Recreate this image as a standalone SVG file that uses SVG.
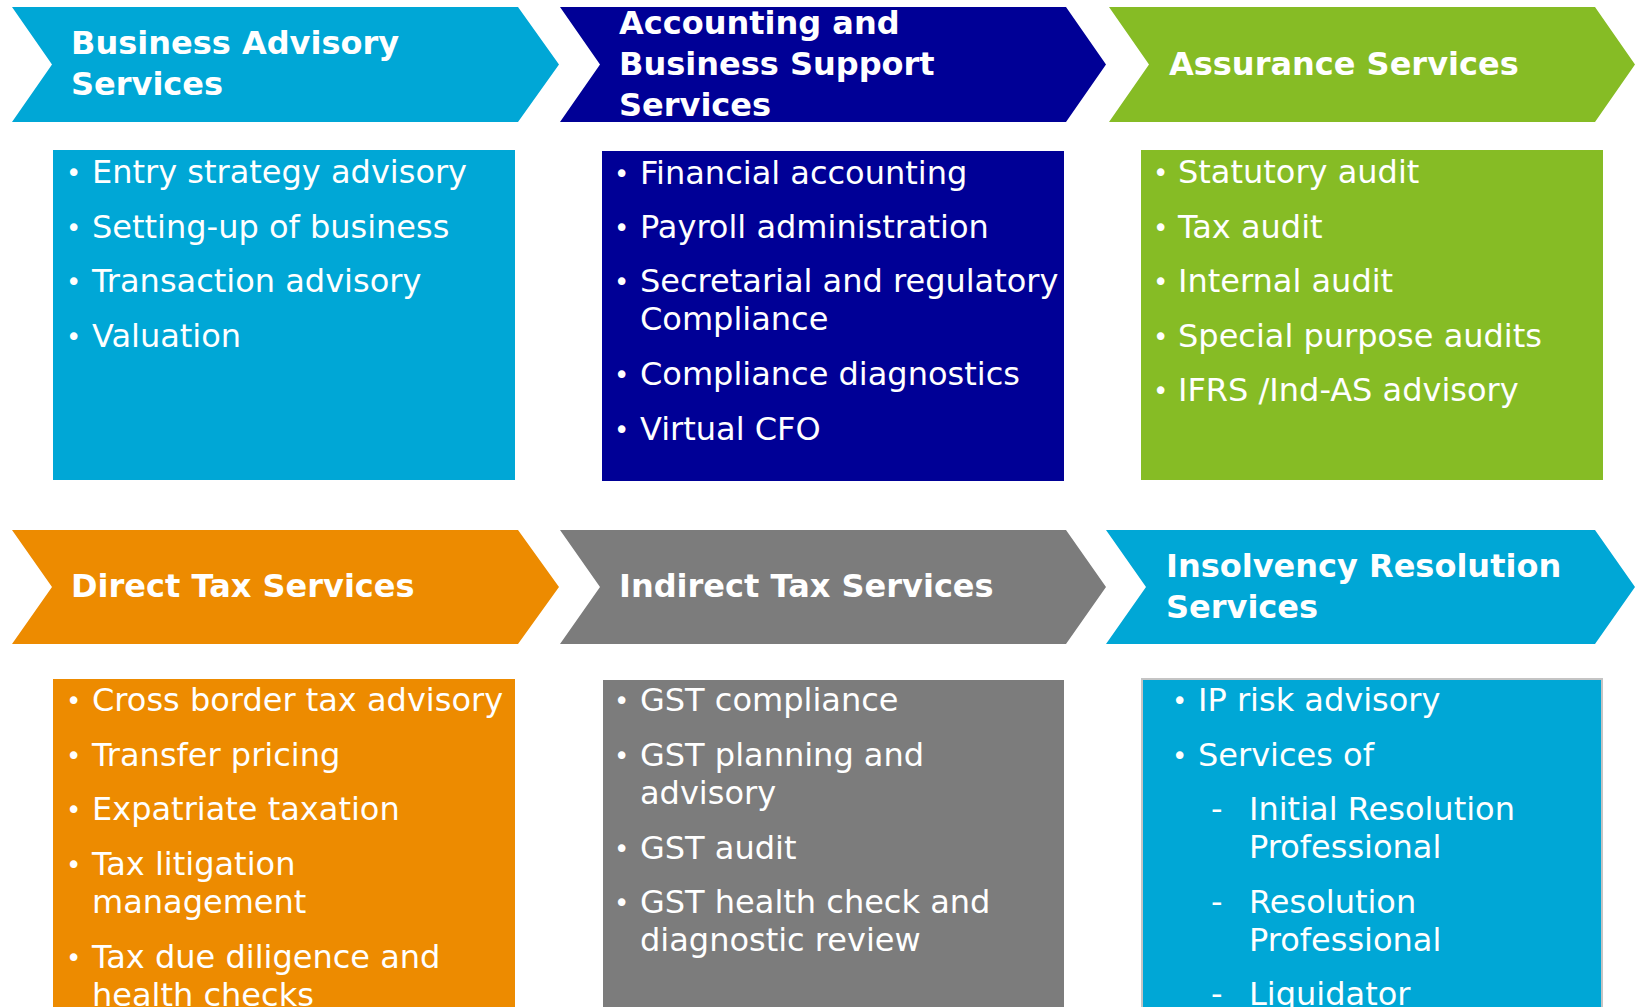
<svg xmlns="http://www.w3.org/2000/svg" width="1635" height="1007" viewBox="0 0 1635 1007">
<style>
.h{font-family:"DejaVu Sans",Verdana,sans-serif;font-weight:bold;font-size:32px;fill:#fff}
.t{font-family:"DejaVu Sans",Verdana,sans-serif;font-size:32px;fill:#fff}
.b{font-family:"DejaVu Sans",Verdana,sans-serif;font-size:26px;fill:#fff}
.lb{fill:#00A7D6}.nv{fill:#000096}.gr{fill:#86BC25}.or{fill:#ED8B00}.gy{fill:#7C7C7C}
</style>
<rect width="1635" height="1007" fill="#fff"/>
<g id="business-advisory">
<polygon class="lb" points="12,7 518,7 559,64.5 518,122 12,122 52,64.5"/>
<text class="h" x="71" y="54">Business Advisory</text>
<text class="h" x="71" y="95">Services</text>
<rect class="lb" x="53" y="150" width="462" height="330"/>
<text class="b" x="66" y="182">•</text><text class="t" x="92" y="183">Entry strategy advisory</text>
<text class="b" x="66" y="237">•</text><text class="t" x="92" y="238">Setting-up of business</text>
<text class="b" x="66" y="291">•</text><text class="t" x="92" y="292">Transaction advisory</text>
<text class="b" x="66" y="346">•</text><text class="t" x="92" y="347">Valuation</text>
</g>
<g id="accounting">
<polygon class="nv" points="560,7 1066,7 1106,64.5 1066,122 560,122 600,64.5"/>
<text class="h" x="619" y="34">Accounting and</text>
<text class="h" x="619" y="75">Business Support</text>
<text class="h" x="619" y="116">Services</text>
<rect class="nv" x="602" y="151" width="462" height="330"/>
<text class="b" x="614" y="183">•</text><text class="t" x="640" y="184">Financial accounting</text>
<text class="b" x="614" y="237">•</text><text class="t" x="640" y="238">Payroll administration</text>
<text class="b" x="614" y="291">•</text><text class="t" x="640" y="292">Secretarial and regulatory</text>
<text class="t" x="640" y="330">Compliance</text>
<text class="b" x="614" y="384">•</text><text class="t" x="640" y="385">Compliance diagnostics</text>
<text class="b" x="614" y="439">•</text><text class="t" x="640" y="440">Virtual CFO</text>
</g>
<g id="assurance">
<polygon class="gr" points="1109,7 1595,7 1635,64.5 1595,122 1109,122 1149,64.5"/>
<text class="h" x="1169" y="75">Assurance Services</text>
<rect class="gr" x="1141" y="150" width="462" height="330"/>
<text class="b" x="1153" y="182">•</text><text class="t" x="1178" y="183">Statutory audit</text>
<text class="b" x="1153" y="237">•</text><text class="t" x="1178" y="238">Tax audit</text>
<text class="b" x="1153" y="291">•</text><text class="t" x="1178" y="292">Internal audit</text>
<text class="b" x="1153" y="346">•</text><text class="t" x="1178" y="347">Special purpose audits</text>
<text class="b" x="1153" y="400">•</text><text class="t" x="1178" y="401">IFRS /Ind-AS advisory</text>
</g>
<g id="direct-tax">
<polygon class="or" points="12,530 518,530 559,587 518,644 12,644 52,587"/>
<text class="h" x="71" y="597">Direct Tax Services</text>
<rect class="or" x="53" y="679" width="462" height="340"/>
<text class="b" x="66" y="710">•</text><text class="t" x="92" y="711">Cross border tax advisory</text>
<text class="b" x="66" y="765">•</text><text class="t" x="92" y="766">Transfer pricing</text>
<text class="b" x="66" y="819">•</text><text class="t" x="92" y="820">Expatriate taxation</text>
<text class="b" x="66" y="874">•</text><text class="t" x="92" y="875">Tax litigation</text>
<text class="t" x="92" y="913">management</text>
<text class="b" x="66" y="967">•</text><text class="t" x="92" y="968">Tax due diligence and</text>
<text class="t" x="92" y="1006">health checks</text>
</g>
<g id="indirect-tax">
<polygon class="gy" points="560,530 1066,530 1106,587 1066,644 560,644 600,587"/>
<text class="h" x="619" y="597">Indirect Tax Services</text>
<rect class="gy" x="603" y="680" width="461" height="340"/>
<text class="b" x="614" y="710">•</text><text class="t" x="640" y="711">GST compliance</text>
<text class="b" x="614" y="765">•</text><text class="t" x="640" y="766">GST planning and</text>
<text class="t" x="640" y="804">advisory</text>
<text class="b" x="614" y="858">•</text><text class="t" x="640" y="859">GST audit</text>
<text class="b" x="614" y="912">•</text><text class="t" x="640" y="913">GST health check and</text>
<text class="t" x="640" y="951">diagnostic review</text>
</g>
<g id="insolvency">
<polygon class="lb" points="1106,530 1595,530 1635,587 1595,644 1106,644 1146,587"/>
<text class="h" x="1166" y="577">Insolvency Resolution</text>
<text class="h" x="1166" y="618">Services</text>
<rect class="lb" x="1142" y="679" width="460" height="340" stroke="#c4c4c4" stroke-width="2"/>
<text class="b" x="1172" y="710">•</text><text class="t" x="1198" y="711">IP risk advisory</text>
<text class="b" x="1172" y="765">•</text><text class="t" x="1198" y="766">Services of</text>
<text class="t" x="1211" y="820">-</text><text class="t" x="1249" y="820">Initial Resolution</text>
<text class="t" x="1249" y="858">Professional</text>
<text class="t" x="1211" y="913">-</text><text class="t" x="1249" y="913">Resolution</text>
<text class="t" x="1249" y="951">Professional</text>
<text class="t" x="1211" y="1005">-</text><text class="t" x="1249" y="1005">Liquidator</text>
</g>
<g id="connectors"></g>
</svg>
